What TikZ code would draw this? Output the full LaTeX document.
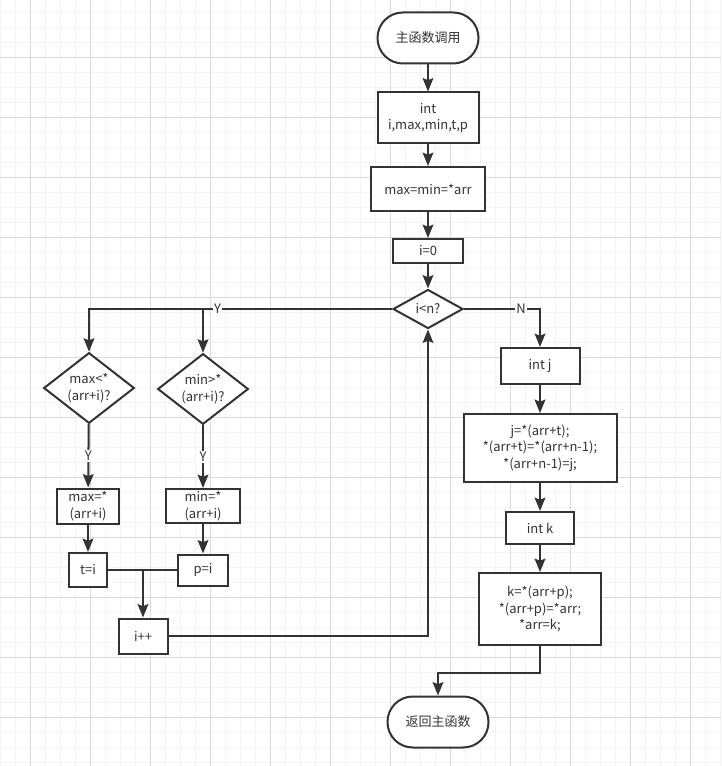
\documentclass[tikz,border=0pt]{standalone}
\usepackage{fontspec}
\setmainfont{Noto Sans CJK SC}
\usetikzlibrary{shapes.geometric,arrows.meta}
\definecolor{ink}{HTML}{333333}
\definecolor{gridmajor}{HTML}{DADADA}
\definecolor{gridminor}{HTML}{F3F3F3}

\begin{document}
\begin{tikzpicture}[x=0.75pt,y=-0.75pt,
    every node/.style={text=ink,font=\fontsize{9.75}{12.4}\selectfont,align=center},
    box/.style={draw=ink,line width=1.5pt,fill=white,inner sep=0pt},
    term/.style={box,rounded corners=19pt},
    cond/.style={box,diamond,aspect=1.3},
    flow/.style={draw=ink,line width=1.5pt,-{Stealth[length=10pt,width=8pt,inset=1.5pt]}},
    link/.style={draw=ink,line width=1.5pt},
    tag/.style={fill=white,inner sep=1pt}]
    \useasboundingbox (0,0) rectangle (721,766);
    \fill[white] (0,0) rectangle (721,766);
    % background grid
    \foreach \x in {0,15,...,720} {
        \draw[gridminor] (\x,0) -- (\x,766);
    }
    \foreach \y in {12,27,...,762} {
        \draw[gridminor] (0,\y) -- (721,\y);
    }
    \foreach \x in {30,90,...,690} {
        \draw[gridmajor] (\x,0) -- (\x,766);
    }
    \foreach \y in {57,117,...,717} {
        \draw[gridmajor] (0,\y) -- (721,\y);
    }
    % main column
    \node[term,minimum width=75.75pt,minimum height=38.25pt] (start) at (428,38) {主函数调用};
    \node[box,minimum width=75.75pt,minimum height=38.25pt] (decl) at (428,118) {int\\i,max,min,t,p};
    \node[box,minimum width=85.5pt,minimum height=33pt] (init) at (428,189) {max=min=*arr};
    \node[box,minimum width=52.5pt,minimum height=18pt] (zero) at (428,251) {i=0};
    \node[cond,minimum width=52.5pt,minimum height=29.25pt] (loop) at (428,309) {i<n?};
    % loop body
    \node[cond,minimum width=68pt,minimum height=53pt] (cmax) at (89,388) {max<*\\(arr+i)?};
    \node[cond,minimum width=68pt,minimum height=53pt] (cmin) at (203,389) {min>*\\(arr+i)?};
    \node[box,minimum width=46.5pt,minimum height=26.25pt] (setmax) at (88,506) {max=*\\(arr+i)};
    \node[box,minimum width=55.5pt,minimum height=25.5pt] (setmin) at (203,506) {min=*\\(arr+i)};
    \node[box,minimum width=28.5pt,minimum height=25.5pt] (savet) at (88,570) {t=i};
    \node[box,minimum width=37.5pt,minimum height=23.25pt] (savep) at (203,570) {p=i};
    \node[box,minimum width=36.75pt,minimum height=26.25pt] (inc) at (143,636) {i++};
    % after the loop
    \node[box,minimum width=59.25pt,minimum height=27pt] (intj) at (540,366) {int j};
    \node[box,minimum width=114.75pt,minimum height=51pt] (swapt) at (540,448) {j=*(arr+t);\\*(arr+t)=*(arr+n-1);\\*(arr+n-1)=j;};
    \node[box,minimum width=51pt,minimum height=24pt] (intk) at (540,528) {int k};
    \node[box,minimum width=91.5pt,minimum height=54pt] (swapp) at (540,609) {k=*(arr+p);\\*(arr+p)=*arr;\\*arr=k;};
    \node[term,minimum width=75.75pt,minimum height=38.25pt] (stop) at (438,722) {返回主函数};

    \draw[flow] (start) -- (decl);
    \draw[flow] (decl) -- (init);
    \draw[flow] (init) -- (zero);
    \draw[flow] (zero) -- (loop);
    \draw[flow] (loop.west) -| node[tag,pos=0.288] {Y} (cmax.north);
    \coordinate (fork) at (cmin.north |- loop.west);
    \draw[flow] (fork) -- (cmin.north);
    \draw[flow] (cmax) -- node[tag] {Y} (setmax);
    \draw[flow] (cmin) -- node[tag] {Y} (setmin);
    \draw[flow] (setmax) -- (savet);
    \draw[flow] (setmin) -- (savep);
    \draw[link] (savet) -- (savep);
    \coordinate (join) at (inc.north |- savet.east);
    \draw[flow] (join) -- (inc);
    \draw[flow] (inc.east) -| (loop.south);
    \draw[flow] (loop.east) -| node[tag,pos=0.375] {N} (intj.north);
    \draw[flow] (intj) -- (swapt);
    \draw[flow] (swapt) -- (intk);
    \draw[flow] (intk) -- (swapp);
    \draw[flow] (swapp.south) -- ++(0,27) -| (stop.north);
\end{tikzpicture}
\end{document}
